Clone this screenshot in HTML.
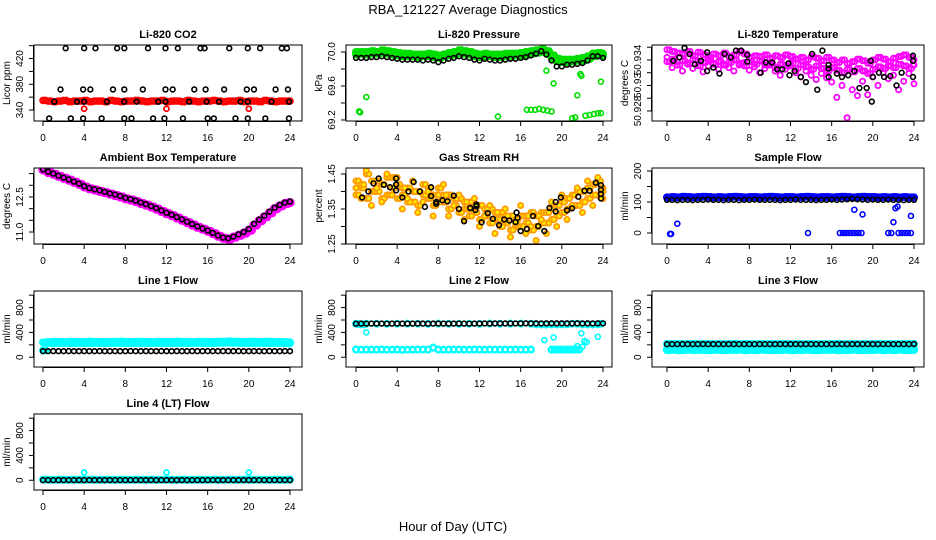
<!DOCTYPE html>
<html><head><meta charset="utf-8">
<style>
html,body{margin:0;padding:0;background:#fff;}
svg{display:block;font-family:"Liberation Sans",sans-serif;}
</style></head>
<body>
<svg id="chart" width="936" height="540" viewBox="0 0 936 540" xmlns="http://www.w3.org/2000/svg">
<text x="468" y="14" text-anchor="middle" font-size="13">RBA_121227  Average Diagnostics</text>
<text x="453" y="531" text-anchor="middle" font-size="13">Hour of Day (UTC)</text>
</svg>
<script>
const H49 = [0,0.5,1,1.5,2,2.5,3,3.5,4,4.5,5,5.5,6,6.5,7,7.5,8,8.5,9,9.5,10,10.5,11,11.5,12,12.5,13,13.5,14,14.5,15,15.5,16,16.5,17,17.5,18,18.5,19,19.5,20,20.5,21,21.5,22,22.5,23,23.5,24];
const HQ = [0.25,0.75,1.25,1.75,2.25,2.75,3.25,3.75,4.25,4.75,5.25,5.75,6.25,6.75,7.25,7.75,8.25,8.75,9.25,9.75,10.25,10.75,11.25,11.75,12.25,12.75,13.25,13.75,14.25,14.75,15.25,15.75,16.25,16.75,17.25,17.75,18.25,18.75,19.25,19.75,20.25,20.75,21.25,21.75,22.25,22.75,23.25,23.75,23.9];
const XTICKS = [0,4,8,12,16,20,24];

// CO2
const co2Red = [355,354,353,354,355,353,354,354,355,353, 354,354,353,355,354,353,354,354,355,354, 353,354,354,355,353,354,354,353,355,354, 353,354,354,355,354,353,354,354,355,353, 354,354,353,355,354,353,354,354,354];
const co2RedOutX = [4,12,20];
const co2RedOutY = [342,342,342];
const co2BlackX = [2.2,4.0,5.1,7.2,7.9,10.2,11.9,13.1,15.3,15.7,18.1,19.9,21.1,23.2,23.7, 1.7,3.9,4.6,6.8,7.9,9.7,11.9,12.6,14.7,15.8,17.6,19.8,20.5,22.6,23.8, 1.1,3.3,4.0,6.2,7.9,9.1,11.2,11.9,14.2,15.9,17.1,19.2,19.9,22.2,23.9, 0.6,2.7,3.9,5.7,7.9,8.6,10.7,11.8,13.6,16.0,16.6,18.7,19.9,21.6,23.9];
const co2BlackY = [436,436,436,436,436,436,436,436,436,436,436,436,436,436,436, 372,372,372,372,372,372,372,372,372,372,372,372,372,372,372, 353,353,353,353,353,353,353,353,353,353,353,353,353,353,353, 327,327,327,327,327,327,327,327,327,327,327,327,327,327,327];

// Pressure
const pressGreen = [70.00,70.00,70.00,70.01,70.00,70.02,70.01,70.00,69.99,69.98, 69.98,69.97,69.97,69.97,69.98,69.97,69.96,69.97,69.99,70.00, 70.02,70.01,70.00,69.98,69.97,69.98,69.97,69.97,69.97,69.98, 69.98,69.98,69.99,70.00,70.01,70.02,70.03,70.01,69.96,69.92, 69.91,69.91,69.91,69.92,69.93,69.95,69.98,69.99,69.98];
const pressGreenLow = [69.97,69.98,69.97,69.98,69.98,69.99,69.98,69.97,69.96,69.95, 69.95,69.95,69.94,69.95,69.95,69.94,69.93,69.95,69.96,69.97, 69.99,69.98,69.97,69.95,69.94,69.95,69.95,69.94,69.94,69.95, 69.95,69.96,69.96,69.97,69.98,69.99,70.00,69.98,69.93,69.89, 69.88,69.88,69.89,69.90,69.90,69.92,69.95,69.96,69.96];
const pressOutX = [0.3,0.4,1.0,13.8,16.6,17.0,17.4,17.8,18.2,18.6,19.0,18.5,19.2,21.0,21.3,21.5,21.8,21.9,22.3,22.7,23.1,23.5,23.8,23.8];
const pressOutY = [69.30,69.29,69.47,69.24,69.32,69.32,69.32,69.33,69.32,69.31,69.30,69.78,69.63,69.22,69.23,69.49,69.74,69.72,69.25,69.26,69.27,69.28,69.28,69.65];
const pressBlack = [69.93,69.93,69.93,69.94,69.94,69.95,69.94,69.93,69.92,69.91, 69.91,69.91,69.91,69.90,69.91,69.90,69.88,69.90,69.92,69.93, 69.95,69.94,69.93,69.91,69.90,69.92,69.91,69.90,69.90,69.91, 69.92,69.92,69.93,69.94,69.96,69.98,70.01,69.97,69.90,69.83, 69.83,69.85,69.85,69.86,69.87,69.90,69.95,69.95,69.93];

// Li-820 temperature
const tMag1 = [50.9352,50.9350,50.9348,50.9347,50.9350,50.9345,50.9349,50.9346,50.9343,50.9347,50.9345,50.9348,50.9344,50.9346,50.9350,50.9347,50.9343,50.9345,50.9344,50.9346,50.9342,50.9345,50.9343,50.9346,50.9344,50.9341,50.9343,50.9340,50.9344,50.9342,50.9339,50.9343,50.9340,50.9337,50.9340,50.9336,50.9338,50.9341,50.9339,50.9336,50.9340,50.9343,50.9341,50.9338,50.9342,50.9344,50.9346,50.9343,50.9340];
const tMag2 = [50.9338,50.9341,50.9334,50.9339,50.9336,50.9340,50.9333,50.9337,50.9340,50.9335,50.9338,50.9334,50.9337,50.9340,50.9336,50.9333,50.9338,50.9335,50.9339,50.9334,50.9336,50.9331,50.9335,50.9333,50.9336,50.9330,50.9334,50.9332,50.9329,50.9333,50.9330,50.9327,50.9331,50.9328,50.9325,50.9329,50.9326,50.9330,50.9327,50.9324,50.9329,50.9332,50.9330,50.9333,50.9331,50.9335,50.9333,50.9330,50.9334];
const tMag3 = [50.9343,50.9331,50.9338,50.9327,50.9335,50.9330,50.9339,50.9326,50.9333,50.9336,50.9329,50.9335,50.9331,50.9327,50.9334,50.9337,50.9328,50.9332,50.9325,50.9330,50.9334,50.9327,50.9322,50.9329,50.9333,50.9325,50.9320,50.9327,50.9322,50.9317,50.9324,50.9319,50.9314,50.9296,50.9310,50.9272,50.9305,50.9298,50.9315,50.9299,50.9320,50.9310,50.9325,50.9318,50.9322,50.9305,50.9315,50.9324,50.9312];
const tBlackX = [0.6,1.2,1.7,2.2,2.7,3.3,3.9,3.9,4.5,5.1,5.6,6.2,6.7,7.2,7.8,7.8,9.1,9.6,10.2,10.7,11.2,11.8,11.9,12.4,13.0,13.5,14.1,14.6,15.1,15.7,15.7,15.7,16.5,17.0,17.6,18.2,18.7,19.4,19.8,19.9,20.0,20.6,21.1,21.7,22.3,22.8,23.9,23.9,23.9];
const tBlackY = [50.9339,50.9343,50.9354,50.9347,50.9335,50.9339,50.9349,50.9327,50.9331,50.9324,50.9347,50.9343,50.9351,50.9351,50.9346,50.9338,50.9325,50.9337,50.9337,50.9329,50.9329,50.9336,50.9322,50.9327,50.9320,50.9314,50.9347,50.9305,50.9351,50.9334,50.9330,50.9320,50.9324,50.9320,50.9322,50.9327,50.9307,50.9307,50.9339,50.9291,50.9320,50.9325,50.9320,50.9321,50.9310,50.9325,50.9345,50.9339,50.9320];

// Ambient box temperature
const ambMag = [13.66,13.55,13.47,13.38,13.30,13.22,13.13,13.04,12.93,12.85, 12.80,12.74,12.68,12.62,12.56,12.50,12.42,12.37,12.30,12.22, 12.15,12.07,11.98,11.88,11.78,11.70,11.60,11.50,11.40,11.30, 11.20,11.12,11.03,10.93,10.82,10.73,10.70,10.78,10.86,10.95, 11.08,11.30,11.48,11.65,11.82,12.00,12.12,12.22,12.26];
const ambBlack = [13.68,13.58,13.50,13.41,13.33,13.25,13.16,13.07,12.96,12.88, 12.83,12.78,12.72,12.65,12.60,12.54,12.46,12.41,12.34,12.26, 12.19,12.11,12.02,11.92,11.82,11.74,11.64,11.54,11.44,11.34, 11.24,11.15,11.06,10.96,10.85,10.76,10.73,10.80,10.90,11.00, 11.13,11.35,11.53,11.70,11.87,12.04,12.16,12.26,12.30];

// Gas stream RH
const rhA = [1.43,1.41,1.45,1.40,1.43,1.38,1.44,1.41,1.42,1.39, 1.41,1.37,1.40,1.42,1.38,1.39,1.41,1.37,1.39,1.36, 1.38,1.35,1.37,1.34,1.36,1.33,1.35,1.32,1.34,1.31, 1.33,1.30,1.33,1.31,1.34,1.30,1.34,1.31,1.35,1.33, 1.37,1.35,1.39,1.36,1.40,1.38,1.42,1.39,1.41];
const rhB = [1.39,1.42,1.38,1.43,1.40,1.42,1.39,1.44,1.38,1.41, 1.37,1.40,1.36,1.39,1.41,1.36,1.37,1.39,1.35,1.38, 1.34,1.37,1.33,1.36,1.32,1.35,1.31,1.34,1.30,1.33, 1.29,1.32,1.30,1.33,1.29,1.33,1.31,1.34,1.32,1.36, 1.34,1.38,1.36,1.40,1.37,1.41,1.39,1.43,1.38];
const rhC = [1.41,1.38,1.46,1.36,1.41,1.37,1.45,1.39,1.44,1.35, 1.38,1.43,1.34,1.37,1.40,1.33,1.39,1.42,1.33,1.36, 1.39,1.32,1.35,1.38,1.30,1.33,1.36,1.28,1.32,1.35, 1.27,1.31,1.36,1.28,1.30,1.26,1.32,1.28,1.37,1.30, 1.39,1.32,1.36,1.41,1.34,1.43,1.36,1.44,1.40];
const rhBlackX = [0.6,1.2,1.7,2.2,2.7,3.3,3.9,3.9,3.9,4.5,5.1,5.6,6.2,6.7,7.3,7.3,7.8,7.8,8.4,8.9,9.5,10.0,10.5,11.1,11.6,11.7,11.7,12.2,12.8,13.3,13.9,14.4,14.9,15.5,15.6,15.7,16.0,16.6,17.2,17.7,18.3,18.8,19.4,19.4,19.9,20.5,21.0,21.6,22.2,22.7,23.3,23.8,23.8,23.8,23.8];
const rhBlackY = [1.383,1.400,1.423,1.437,1.419,1.412,1.437,1.403,1.420,1.383,1.400,1.427,1.400,1.356,1.387,1.412,1.365,1.370,1.375,1.372,1.388,1.350,1.315,1.353,1.347,1.358,1.363,1.312,1.338,1.322,1.304,1.320,1.317,1.313,1.340,1.325,1.287,1.293,1.330,1.301,1.287,1.353,1.370,1.343,1.383,1.346,1.352,1.385,1.402,1.402,1.425,1.393,1.418,1.405,1.380];

// Sample flow
const sfBlue = [115,116,115,117,116,115,116,117,116,115, 116,115,116,117,116,115,116,116,115,116, 117,116,115,116,116,115,116,117,116,115, 116,116,115,116,117,116,115,116,117,116, 116,115,116,115,116,115,116,115,115];
const sfBlueOutX = [0.3,0.4,1.0,13.7,16.8,17.1,17.4,17.7,18.0,18.3,18.6,18.9,18.2,19.0,21.5,21.8,22.0,22.2,22.4,22.5,22.8,23.1,23.4,23.7,23.7];
const sfBlueOutY = [-3,-3,30,0,0,0,0,0,0,0,0,0,75,60,0,0,35,80,85,0,0,0,0,0,55];
const sfBlack = [107,107,106,107,107,106,107,107,108,107, 107,106,107,107,106,107,107,108,107,107, 107,107,106,107,107,108,107,107,107,106, 107,107,108,107,108,109,110,109,108,107, 108,107,107,108,107,107,106,107,107];

// Line 1 flow
const l1Cyan = [240,245,250,248,246,250,247,249,246,251, 248,246,250,247,249,251,248,246,249,250, 247,246,250,248,249,247,251,248,250,246, 249,250,247,248,251,249,255,252,250,248, 251,249,247,250,252,246,248,244,240];
const l1Cyan2 = [110,230,225,228,230,226,229,231,227,229, 230,228,226,229,231,228,227,229,230,228, 227,229,231,228,226,229,230,228,227,229, 231,228,230,229,232,234,236,233,231,229, 230,228,231,229,227,229,230,226,224];
const l1Black = [98,98,99,98,98,99,98,98,99,98, 98,99,98,98,99,98,98,99,98,98, 99,98,98,99,98,98,99,98,98,99, 98,98,99,98,98,99,98,98,99,98, 98,99,98,98,99,98,98,99,98];

// Line 2 flow
const l2CyanUpX = [0,0.2,0.4,0.7,1,2,3,4,5,6,7,8,9,10,11,12,13,14,15,16,17,17.5,18,18.5,19,19.5,20,20.5,21,21.5,22,22.5,23,23.5,23.8];
const l2CyanUpY = [540,535,530,528,540,540,538,540,541,540,539,541,540,539,540,538,542,540,541,542,540,530,528,527,528,529,530,531,540,540,530,528,530,531,540];
const l2CyanLowX = [0,0.5,1,1.5,2,2.5,3,3.5,4,4.5,5,5.5,6,6.5,7,7.5,8,8.5,9,9.5,10,10.5,11,11.5,12,12.5,13,13.5,14,14.5,15,15.5,16,16.5,17,19,19.3,19.6,19.9,20.2,20.5,20.8,21.1,21.4,21.7];
const l2CyanLowY = [125,122,124,123,122,125,123,122,124,118,123,122,124,125,123,155,124,122,123,124,125,122,123,124,123,122,124,123,122,124,123,124,122,123,124,122,123,124,125,123,124,122,123,124,122];
const l2CyanOutX = [1.0,18.3,19.2,21.5,21.9,22.0,22.2,22.4,23.5];
const l2CyanOutY = [400,275,320,180,385,170,260,245,330];
const l2Black = [540,542,541,542,543,542,541,542,543,542, 541,542,543,542,541,542,543,542,541,542, 543,542,541,542,543,544,543,544,545,544, 545,544,545,546,545,546,545,546,547,546, 547,546,545,546,545,546,545,546,545];

// Line 3 flow
const l3CyanHi = [215,212,214,211,213,215,212,214,213,211, 214,212,213,215,211,213,214,212,213,211, 214,212,215,213,211,214,212,213,215,212, 214,211,213,215,212,214,213,211,214,212, 213,215,212,214,211,213,212,214,213];
const l3CyanLo = [120,125,118,122,126,119,124,121,118,125, 122,119,124,121,126,118,123,120,125,122, 119,124,121,126,118,123,120,125,122,119, 124,121,126,118,123,120,125,122,119,124, 121,126,118,123,120,125,122,119,124];
const l3Black = [210,212,211,212,212,211,212,212,211,212, 212,211,212,212,211,212,212,211,212,212, 211,212,212,211,212,212,211,212,212,211, 212,212,211,212,212,211,212,212,211,212, 212,211,212,212,211,212,212,211,213];

// Line 4 flow
const l4Cyan = [10,8,9,10,8,9,10,8,9,10, 8,9,10,8,9,10,8,9,10,8, 9,10,8,9,10,8,9,10,8,9, 10,8,9,10,8,9,10,8,9,10, 8,9,10,8,9,10,8,9,10];
const l4CyanOutX = [4,12,20];
const l4CyanOutY = [125,125,125];
const l4Black = [2,3,2,3,2,3,2,3,2,3, 2,3,2,3,2,3,2,3,2,3, 2,3,2,3,2,3,2,3,2,3, 2,3,2,3,2,3,2,3,2,3, 2,3,2,3,2,3,2,3,2];

const panels = [
 {name:'co2',title:'Li-820 CO2',ylab:'Licor ppm',col:0,row:0,lo:323,hi:441,ticks:[340,360,380,400,420,440],labels:{340:'340',380:'380',420:'420'},
  series:[{x:H49,y:co2Red,c:'#ff0000',r:2.6,w:2.4},{x:HQ,y:co2Red,c:'#ff0000',r:2.6,w:2.4},{x:co2RedOutX,y:co2RedOutY,c:'#ff0000',r:2.5,w:1.8},{x:co2BlackX,y:co2BlackY,c:'#000',r:2.4,w:1.6}]},
 {name:'pressure',title:'Li-820 Pressure',ylab:'kPa',col:1,row:0,lo:69.188,hi:70.082,ticks:[69.2,69.4,69.6,69.8,70.0],labels:{'69.2':'69.2','69.6':'69.6','70':'70.0'},
  series:[{x:H49,y:pressGreen,c:'#00dd00',r:2.8,w:2.4},{x:HQ,y:pressGreen,c:'#00dd00',r:2.8,w:2.4},{x:H49,y:pressGreenLow,c:'#00dd00',r:2.8,w:2.4},{x:HQ,y:pressGreenLow,c:'#00dd00',r:2.8,w:2.4},{x:pressOutX,y:pressOutY,c:'#00dd00',r:2.5,w:1.6},{x:H49,y:pressBlack,c:'#000',r:2.4,w:1.6}]},
 {name:'li820-temperature',title:'Li-820 Temperature',ylab:'degrees C',col:2,row:0,lo:50.92682,hi:50.93576,ticks:[50.928,50.9295,50.931,50.9325,50.934,50.9355],labels:{'50.928':'50.928','50.931':'50.93','50.934':'50.934'},
  series:[{x:H49,y:tMag1,c:'#ff00ff',r:2.6,w:1.8},{x:HQ,y:tMag1,c:'#ff00ff',r:2.6,w:1.8},{x:H49,y:tMag2,c:'#ff00ff',r:2.6,w:1.8},{x:HQ,y:tMag2,c:'#ff00ff',r:2.6,w:1.8},{x:H49,y:tMag3,c:'#ff00ff',r:2.6,w:1.8},{x:tBlackX,y:tBlackY,c:'#000',r:2.4,w:1.6}]},
 {name:'ambient-box-temperature',title:'Ambient Box Temperature',ylab:'degrees C',col:0,row:1,lo:10.486,hi:13.74,ticks:[11,11.5,12,12.5,13,13.5],labels:{'11':'11.0','12.5':'12.5'},
  series:[{x:H49,y:ambMag,c:'#ff00ff',r:3.2,w:2.8},{x:HQ,y:ambMag,c:'#ff00ff',r:3.2,w:2.8},{x:H49,y:ambBlack,c:'#000',r:2.4,w:1.6}]},
 {name:'gas-stream-rh',title:'Gas Stream RH',ylab:'percent',col:1,row:1,lo:1.25,hi:1.467,ticks:[1.25,1.3,1.35,1.4,1.45],labels:{'1.25':'1.25','1.35':'1.35','1.45':'1.45'},
  series:[{x:H49,y:rhA,c:'#ff9900',r:2.6,w:1.8,f:'#ffee00'},{x:HQ,y:rhA,c:'#ff9900',r:2.6,w:1.8,f:'#ffee00'},{x:H49,y:rhB,c:'#ff9900',r:2.6,w:1.8,f:'#ffee00'},{x:HQ,y:rhB,c:'#ff9900',r:2.6,w:1.8,f:'#ffee00'},{x:H49,y:rhC,c:'#ff9900',r:2.6,w:1.8,f:'#ffee00'},{x:rhBlackX,y:rhBlackY,c:'#000',r:2.4,w:1.6}]},
 {name:'sample-flow',title:'Sample Flow',ylab:'ml/min',col:2,row:1,lo:-35.5,hi:209.7,ticks:[0,50,100,150,200],labels:{'0':'0','100':'100','200':'200'},
  series:[{x:H49,y:sfBlue,c:'#0000ff',r:2.8,w:2.4},{x:HQ,y:sfBlue,c:'#0000ff',r:2.8,w:2.4},{x:sfBlueOutX,y:sfBlueOutY,c:'#0000ff',r:2.5,w:1.6},{x:H49,y:sfBlack,c:'#000',r:2.4,w:1.6}]},
 {name:'line-1-flow',title:'Line 1 Flow',ylab:'ml/min',col:0,row:2,lo:-157,hi:1067,ticks:[0,200,400,600,800,1000],labels:{'0':'0','400':'400','800':'800'},
  series:[{x:H49,y:l1Cyan,c:'#00ffff',r:2.8,w:2.4},{x:HQ,y:l1Cyan,c:'#00ffff',r:2.8,w:2.4},{x:H49,y:l1Cyan2,c:'#00ffff',r:2.8,w:2.4},{x:HQ,y:l1Cyan2,c:'#00ffff',r:2.8,w:2.4},{x:H49,y:l1Black,c:'#000',r:2.4,w:1.6}]},
 {name:'line-2-flow',title:'Line 2 Flow',ylab:'ml/min',col:1,row:2,lo:-157,hi:1067,ticks:[0,200,400,600,800,1000],labels:{'0':'0','400':'400','800':'800'},
  series:[{x:l2CyanUpX,y:l2CyanUpY,c:'#00ffff',r:2.8,w:2.4},{x:l2CyanLowX,y:l2CyanLowY,c:'#00ffff',r:2.8,w:2.4},{x:l2CyanOutX,y:l2CyanOutY,c:'#00ffff',r:2.5,w:1.6},{x:H49,y:l2Black,c:'#000',r:2.4,w:1.6}]},
 {name:'line-3-flow',title:'Line 3 Flow',ylab:'ml/min',col:2,row:2,lo:-157,hi:1067,ticks:[0,200,400,600,800,1000],labels:{'0':'0','400':'400','800':'800'},
  series:[{x:H49,y:l3CyanHi,c:'#00ffff',r:2.8,w:2.4},{x:HQ,y:l3CyanHi,c:'#00ffff',r:2.8,w:2.4},{x:H49,y:l3CyanLo,c:'#00ffff',r:3,w:2.6},{x:HQ,y:l3CyanLo,c:'#00ffff',r:3,w:2.6},{x:H49,y:l3Black,c:'#000',r:2.4,w:1.6}]},
 {name:'line-4-flow',title:'Line 4 (LT) Flow',ylab:'ml/min',col:0,row:3,lo:-157,hi:1067,ticks:[0,200,400,600,800,1000],labels:{'0':'0','400':'400','800':'800'},
  series:[{x:H49,y:l4Cyan,c:'#00ffff',r:2.8,w:2.4},{x:HQ,y:l4Cyan,c:'#00ffff',r:2.8,w:2.4},{x:l4CyanOutX,y:l4CyanOutY,c:'#00ffff',r:2.5,w:1.8},{x:H49,y:l4Black,c:'#000',r:2.4,w:1.6}]}
];

const NS = 'http://www.w3.org/2000/svg';
const svg = document.getElementById('chart');
const LEFT = [34,346,652], RIGHT = [302,612,924], X0 = [43,356,667], XSPAN = 247;
const TOP = [45,168,291,414], PH = 76;
function mk(tag, attrs, parent){const e=document.createElementNS(NS,tag);for(const k in attrs)e.setAttribute(k,attrs[k]);(parent||svg).appendChild(e);return e;}

panels.forEach(p => {
  const L = LEFT[p.col], R = RIGHT[p.col], T = TOP[p.row], B = T + PH;
  const xs = h => X0[p.col] + h * XSPAN / 24;
  const ys = v => B - (v - p.lo) / (p.hi - p.lo) * PH;
  const g = mk('g', {});
  
  
  const clipId = 'clip-' + p.name;
  const cp = mk('clipPath', {id: clipId}, g);
  mk('rect', {x: L, y: T, width: R - L, height: PH}, cp);
  const marks = mk('g', {'clip-path': 'url(#' + clipId + ')'}, g);
  
  
  p.series.forEach(s => {
    for (let i = 0; i < s.x.length; i++) {
      const c = mk('circle', {cx: xs(s.x[i]).toFixed(2), cy: ys(s.y[i]).toFixed(2), r: s.r, fill: s.f || 'none', stroke: s.c, 'stroke-width': s.w}, marks);
      
      
    }
  });
  const box = mk('rect', {x: L, y: T, width: R - L, height: PH, fill: 'none', stroke: '#000', 'stroke-width': 1}, g);
  
  
  const t = mk('text', {x: (L + R) / 2, y: T - 7, 'text-anchor': 'middle', 'font-size': 11, 'font-weight': 'bold'}, g);
  t.textContent = p.title;
  
  
  mk('line', {x1: xs(0), x2: xs(24), y1: B + 0.5, y2: B + 0.5, stroke: '#000'}, g);
  XTICKS.forEach(h => {
    mk('line', {x1: xs(h), x2: xs(h), y1: B, y2: B + 5, stroke: '#000'}, g);
    const lt = mk('text', {x: xs(h), y: B + 20, 'text-anchor': 'middle', 'font-size': 10}, g);
    lt.textContent = h;
    
    
  });
  mk('line', {x1: L - 0.5, x2: L - 0.5, y1: ys(p.ticks[0]), y2: ys(p.ticks[p.ticks.length - 1]), stroke: '#000'}, g);
  p.ticks.forEach(v => {
    const y = ys(v);
    mk('line', {x1: L - 5, x2: L, y1: y, y2: y, stroke: '#000'}, g);
    const key = String(v);
    if (p.labels[key] !== undefined) {
      const yt = mk('text', {x: 0, y: 0, 'text-anchor': 'middle', 'font-size': 10, transform: 'translate(' + (L - 11) + ',' + y + ') rotate(-90)'}, g);
      yt.textContent = p.labels[key];
      
      
    }
  });
  const yl = mk('text', {x: 0, y: 0, 'text-anchor': 'middle', 'font-size': 10, transform: 'translate(' + (L - 24) + ',' + (T + PH / 2) + ') rotate(-90)'}, g);
  yl.textContent = p.ylab;
  
  
});
</script>
</body></html>
